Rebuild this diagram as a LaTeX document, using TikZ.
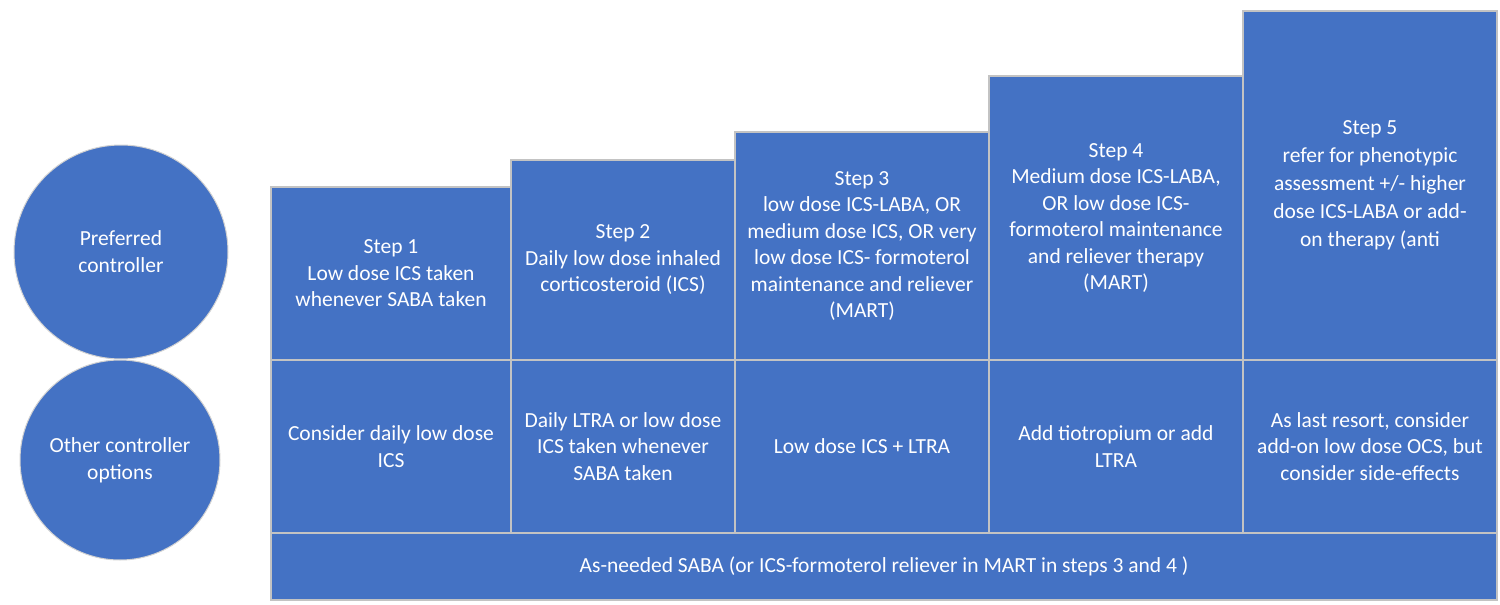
\documentclass[tikz,border=0pt]{standalone}
\usepackage{fontspec}
\setmainfont{Carlito}
\definecolor{blu}{HTML}{4472C4}
\definecolor{edge}{HTML}{C3C3C3}
\begin{document}
\begin{tikzpicture}[x=1pt,y=-1pt,
  cell/.style={rectangle, fill=blu, draw=edge, line width=1.8pt, inner sep=0pt, outer sep=0pt,
    anchor=north west, text=white, align=center, font=\fontsize{21.5}{26.5}\selectfont},
  disc/.style={circle, fill=blu, draw=gray!35, line width=1pt, inner sep=0pt, text=white,
    align=center, font=\fontsize{21.5}{27}\selectfont}]
\useasboundingbox (0,0) rectangle (1500,605);

% circles
\node[disc, minimum size=214pt] (pref) at (121,252) {Preferred\\controller};
\node[disc, minimum size=200pt] (other) at (120,460) {Other controller\\options};

% top row
\node[cell, minimum width=240pt, minimum height=173pt] (p1) at (271,187)
  {Step 1\\Low dose ICS taken\\whenever SABA taken};
\node[cell, minimum width=224pt, minimum height=200pt] (p2) at (511,160)
  {Step 2\\Daily low dose inhaled\\corticosteroid (ICS)};
\node[cell, minimum width=254pt, minimum height=228pt] (p3) at (735,132)
  {Step 3\\low dose ICS-LABA, OR\\medium dose ICS, OR very\\low dose ICS- formoterol\\maintenance and reliever\\(MART)};
\node[cell, minimum width=254pt, minimum height=284pt] (p4) at (989,76)
  {Step 4\\Medium dose ICS-LABA,\\OR low dose ICS-\\formoterol maintenance\\and reliever therapy\\(MART)};
\node[cell, minimum width=254pt, minimum height=349pt, font=\fontsize{21.5}{28}\selectfont] (p5) at (1243,11)
  {Step 5\\refer for phenotypic\\assessment +/- higher\\dose ICS-LABA or add-\\on therapy (anti};

% second row
\node[cell, minimum width=240pt, minimum height=173pt] (o1) at (271,360)
  {Consider daily low dose\\ICS};
\node[cell, minimum width=224pt, minimum height=173pt] (o2) at (511,360)
  {Daily LTRA or low dose\\ICS taken whenever\\SABA taken};
\node[cell, minimum width=254pt, minimum height=173pt] (o3) at (735,360)
  {Low dose ICS + LTRA};
\node[cell, minimum width=254pt, minimum height=173pt] (o4) at (989,360)
  {Add tiotropium or add\\LTRA};
\node[cell, minimum width=254pt, minimum height=173pt] (o5) at (1243,360)
  {As last resort, consider\\add-on low dose OCS, but\\consider side-effects};

% bottom bar
\node[cell, minimum width=1226pt, minimum height=67pt] (saba) at (271,533)
  {As-needed SABA (or ICS-formoterol reliever in MART in steps 3 and 4 )};
\end{tikzpicture}
\end{document}
